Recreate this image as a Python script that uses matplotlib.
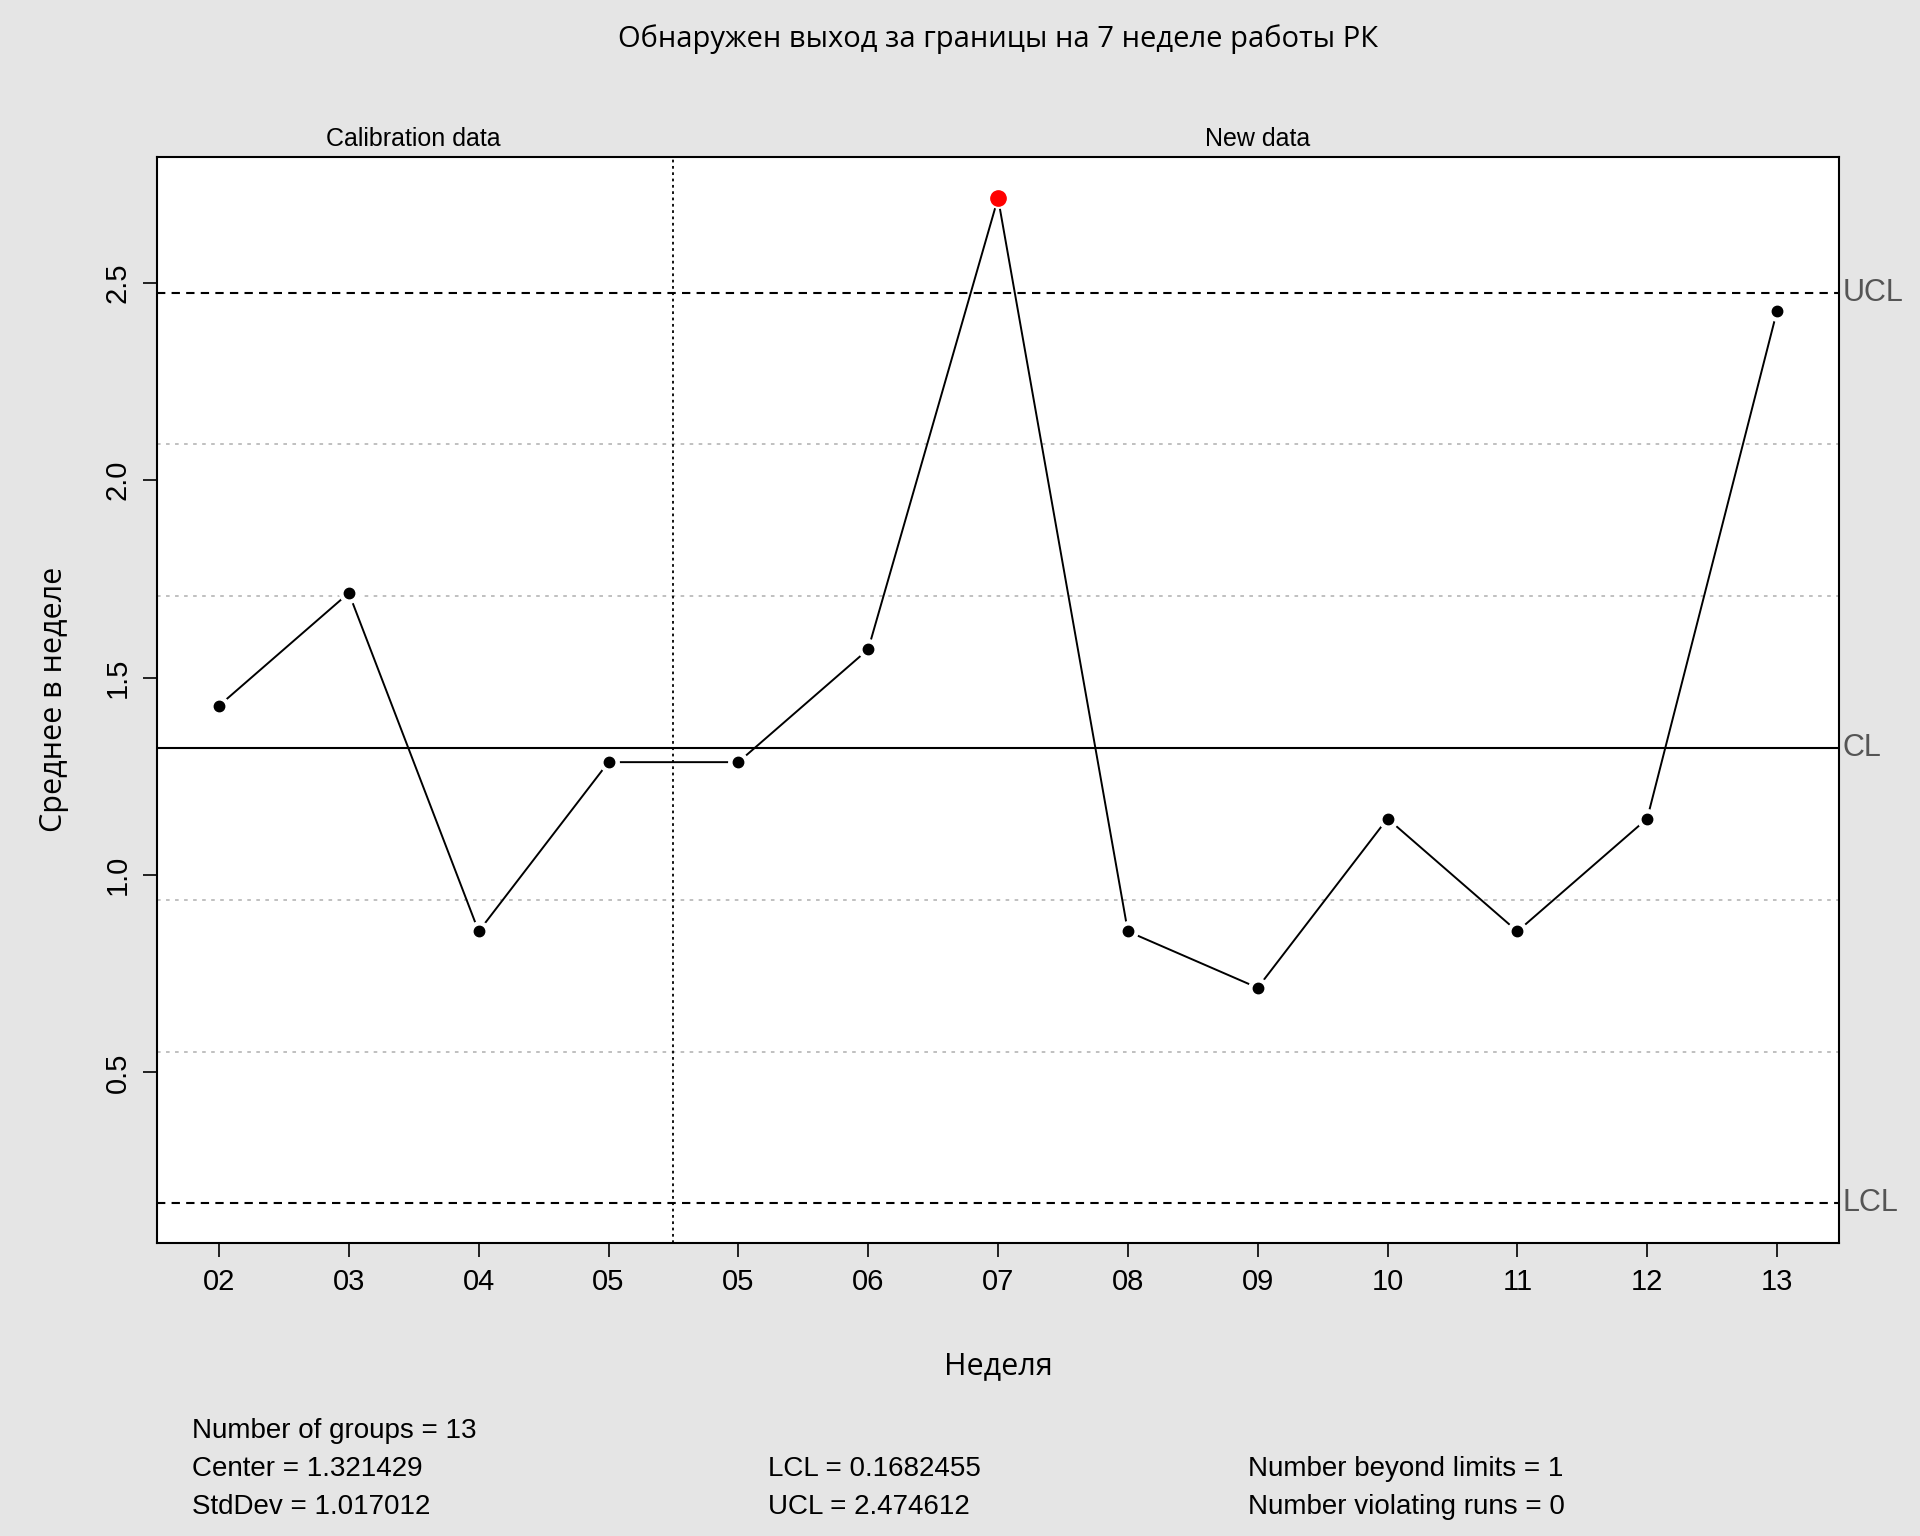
import numpy as np
import matplotlib.pyplot as plt

weeks = ["02", "03", "04", "05", "05", "06", "07", "08", "09", "10", "11", "12", "13"]
means = [1.428571, 1.714286, 0.857143, 1.285714, 1.285714, 1.571429, 2.714286,
         0.857143, 0.714286, 1.142857, 0.857143, 1.142857, 2.428571]
n_calib = 4
center = 1.321429
lcl = 0.1682455
ucl = 2.474612
stddev = 1.017012

plt.rcParams['font.family'] = ['Liberation Sans', 'DejaVu Sans']
bg = "#e5e5e5"
fig = plt.figure(figsize=(19.2, 15.36), dpi=100, facecolor=bg)
ax = fig.add_axes([0.0816, 0.191, 0.8764, 0.707])
ax.set_facecolor("white")

x = np.arange(1, len(means) + 1)
sig = (ucl - center) / 3
for k in (-2, -1, 1, 2):
    ax.axhline(center + k * sig, color="#bbbbbb", ls=(0, (2, 3)), lw=1.3)
ax.axhline(center, color="black", lw=1.5)
ax.axhline(ucl, color="black", ls=(0, (4, 3)), lw=1.5)
ax.axhline(lcl, color="black", ls=(0, (4, 3)), lw=1.5)
ax.axvline(n_calib + 0.5, color="black", ls=(0, (1.5, 2)), lw=1.3)

ax.plot(x, means, color="black", lw=1.4, zorder=2)
vals = np.array(means)
out = (vals > ucl) | (vals < lcl)
ax.plot(x[~out], vals[~out], "o", ms=14, mfc="white", mec="white", zorder=3)
ax.plot(x[~out], vals[~out], "o", ms=7.5, color="black", zorder=4)
ax.plot(x[out], vals[out], "o", ms=14, mfc="white", mec="white", zorder=3)
ax.plot(x[out], vals[out], "o", ms=11, color="red", zorder=4)

ax.set_xlim(0.52, 13.48)
ax.set_ylim(0.069, 2.819)
ax.set_xticks(x)
ax.set_xticklabels(weeks, fontsize=21)
ax.set_yticks([0.5, 1.0, 1.5, 2.0, 2.5])
ax.set_yticklabels(["0.5", "1.0", "1.5", "2.0", "2.5"], fontsize=21, rotation=90, va="center")
ax.tick_params(length=10, width=1.2, pad=8)
for s in ax.spines.values():
    s.set_linewidth(1.5)

for y, lab in ((ucl, "UCL"), (center, "CL"), (lcl, "LCL")):
    ax.text(1.002, y, lab, transform=ax.get_yaxis_transform(), fontsize=22,
            color="#555555", va="center", ha="left")

ax.text(2.5, 1.005, "Calibration data", transform=ax.get_xaxis_transform(),
        ha="center", va="bottom", fontsize=18)
ax.text(9.0, 1.005, "New data", transform=ax.get_xaxis_transform(),
        ha="center", va="bottom", fontsize=18)

rus = ['Open Sans', 'DejaVu Sans']
fig.text(0.52, 0.984, "Обнаружен выход за границы на 7 неделе работы РК",
         ha="center", va="top", fontsize=21, family=rus)
ax.set_xlabel("Неделя", fontsize=22, family=rus, labelpad=40)
ax.set_ylabel("Среднее в неделе", fontsize=22, family=rus, labelpad=25)

fs = 20
fig.text(0.1, 0.064, "Number of groups = 13", fontsize=fs)
fig.text(0.1, 0.039, f"Center = {center}", fontsize=fs)
fig.text(0.1, 0.014, f"StdDev = {stddev}", fontsize=fs)
fig.text(0.4, 0.039, f"LCL = {lcl}", fontsize=fs)
fig.text(0.4, 0.014, f"UCL = {ucl}", fontsize=fs)
fig.text(0.65, 0.039, "Number beyond limits = 1", fontsize=fs)
fig.text(0.65, 0.014, "Number violating runs = 0", fontsize=fs)

fig.savefig("out.png", dpi=100, facecolor=bg)
